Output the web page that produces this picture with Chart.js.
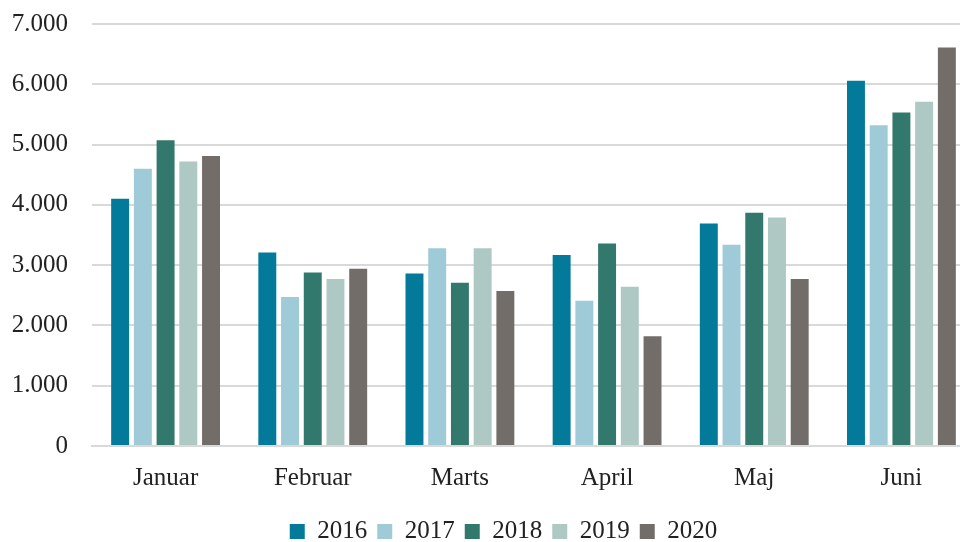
<!DOCTYPE html>
<html lang="da">

<head>
    <meta charset="UTF-8">
    <title>Måneder 2016-2020</title>
    <script src="https://cdn.jsdelivr.net/npm/chart.js"></script>
    <style>
        html, body { margin: 0; padding: 0; background: #fff; overflow: hidden; }
        .wrap { position: absolute; left: 0; top: 0; width: 975px; height: 542px; }
    </style>
</head>

<body>
    <div class="wrap">
        <canvas id="monthChart"></canvas>
    </div>

    <script>
        // data
        const months = ["Januar", "Februar", "Marts", "April", "Maj", "Juni"];
        const years = ["2016", "2017", "2018", "2019", "2020"];
        const v2016 = [4100, 3210, 2860, 3170, 3690, 6060];
        const v2017 = [4600, 2470, 3280, 2410, 3340, 5320];
        const v2018 = [5070, 2880, 2710, 3360, 3870, 5530];
        const v2019 = [4720, 2770, 3280, 2640, 3790, 5710];
        const v2020 = [4810, 2940, 2570, 1820, 2770, 6610];
        const yTicks = [0, 1000, 2000, 3000, 4000, 5000, 6000, 7000];

        const colors = ["#037a99", "#9ecbd7", "#32786c", "#aec8c4", "#726d69"];
        const series = [v2016, v2017, v2018, v2019, v2020];

        const font = "'Liberation Serif', 'DejaVu Serif', serif";

        function dots(n) {
            return String(n).replace(/\B(?=(\d{3})+(?!\d))/g, ".");
        }

        // nudge legend to the right, the original is not centred on the canvas
        const legendShift = {
            id: 'legendShift',
            afterLayout(chart) {
                chart.legend.left += 16;
                chart.legend.right += 16;
            }
        };

        const ctx = document.getElementById('monthChart');
        const chart = new Chart(ctx, {
            type: 'bar',
            data: {
                labels: months,
                datasets: years.map((y, i) => ({
                    label: y,
                    data: series[i],
                    backgroundColor: colors[i],
                    borderWidth: 0,
                    categoryPercentage: 0.772,
                    barPercentage: 0.79
                }))
            },
            options: {
                responsive: true,
                maintainAspectRatio: false,
                animation: false,
                layout: { padding: { left: 0, top: 24, right: 0, bottom: -12 } },
                plugins: {
                    legend: {
                        position: 'bottom',
                        labels: {
                            font: { family: font, size: 25 },
                            color: '#222',
                            boxWidth: 15,
                            boxHeight: 15,
                            padding: 10
                        }
                    },
                    tooltip: { enabled: false }
                },
                scales: {
                    x: {
                        afterFit: (axis) => { axis.height += 7; },
                        grid: { display: false },
                        border: { display: true, color: '#d9d9d9', width: 2 },
                        ticks: {
                            font: { family: font, size: 25 },
                            color: '#222',
                            padding: 9
                        }
                    },
                    y: {
                        min: 0,
                        max: 7000,
                        afterBuildTicks: (axis) => { axis.ticks = yTicks.map(v => ({ value: v })); },
                        afterFit: (axis) => {
                            axis.width = 92;
                            axis.paddingTop = 0;
                            axis.paddingBottom = 0;
                        },
                        grid: { color: '#d9d9d9', lineWidth: 2, drawTicks: false },
                        border: { display: false },
                        ticks: {
                            font: { family: font, size: 25 },
                            color: '#222',
                            padding: 24,
                            callback: (v) => dots(v)
                        }
                    }
                }
            },
            plugins: [legendShift]
        });
    </script>
</body>

</html>
